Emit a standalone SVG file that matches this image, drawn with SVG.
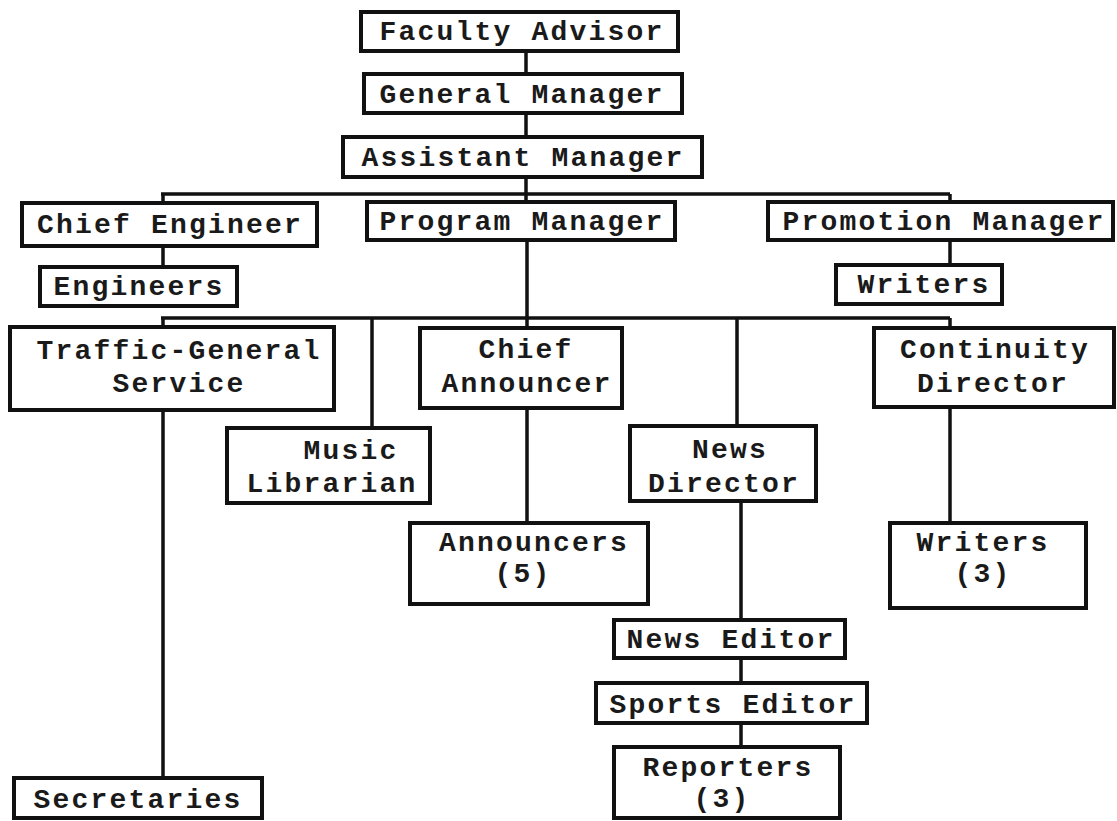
<svg xmlns="http://www.w3.org/2000/svg" width="1117" height="821" viewBox="0 0 1117 821">
<style>
.box{fill:#fff;stroke:#111;stroke-width:4}
.t{font-family:"Liberation Mono","Courier New",monospace;font-weight:bold;font-size:28px;letter-spacing:2.2px;fill:#1a1a1a;text-anchor:middle}
.c{stroke:#111;stroke-width:3.5;fill:none}
</style>
<rect width="1117" height="821" fill="#fff"/>
<g id="connectors">
<path class="c" d="M526 51V74M526 113V137M526 177V202M161 194H950M163 194V203M163 246V267M950 194V202M950 240V265M527 240V318M161 318H950M163 318V327M163 410V778M372 318V428M527 318V328M527 408V523M737 318V426M741 501V620M741 658V683M741 723V747M950 318V328M950 407V523"/>
</g>
<g id="faculty-advisor"><rect class="box" x="361" y="12" width="317" height="39"/><text class="t" x="522" y="40">Faculty Advisor</text></g>
<g id="general-manager"><rect class="box" x="364" y="74" width="318" height="39"/><text class="t" x="522" y="103">General Manager</text></g>
<g id="assistant-manager"><rect class="box" x="343" y="137" width="359" height="40"/><text class="t" x="523" y="166">Assistant Manager</text></g>
<g id="chief-engineer"><rect class="box" x="22" y="203" width="295" height="43"/><text class="t" x="170" y="233">Chief Engineer</text></g>
<g id="program-manager"><rect class="box" x="367" y="202" width="308" height="38"/><text class="t" x="522" y="230">Program Manager</text></g>
<g id="promotion-manager"><rect class="box" x="768" y="202" width="345" height="38"/><text class="t" x="944" y="230">Promotion Manager</text></g>
<g id="engineers"><rect class="box" x="40" y="267" width="197" height="39"/><text class="t" x="139" y="295">Engineers</text></g>
<g id="writers-promo"><rect class="box" x="836" y="265" width="166" height="39"/><text class="t" x="924" y="293">Writers</text></g>
<g id="traffic-general"><rect class="box" x="10" y="327" width="324" height="83"/><text class="t" x="179" y="359">Traffic-General</text><text class="t" x="179" y="392">Service</text></g>
<g id="music-librarian"><rect class="box" x="227" y="428" width="203" height="75"/><text class="t" x="351" y="459">Music</text><text class="t" x="332" y="492">Librarian</text></g>
<g id="chief-announcer"><rect class="box" x="420" y="328" width="202" height="80"/><text class="t" x="526" y="358">Chief</text><text class="t" x="527" y="392">Announcer</text></g>
<g id="news-director"><rect class="box" x="630" y="426" width="186" height="75"/><text class="t" x="730" y="458">News</text><text class="t" x="724" y="492">Director</text></g>
<g id="continuity-director"><rect class="box" x="874" y="328" width="240" height="79"/><text class="t" x="995" y="358">Continuity</text><text class="t" x="993" y="392">Director</text></g>
<g id="announcers"><rect class="box" x="410" y="523" width="238" height="81"/><text class="t" x="534" y="551">Announcers</text><text class="t" x="523" y="582">(5)</text></g>
<g id="writers-3"><rect class="box" x="890" y="523" width="196" height="85"/><text class="t" x="983" y="551">Writers</text><text class="t" x="983" y="582">(3)</text></g>
<g id="news-editor"><rect class="box" x="614" y="620" width="231" height="38"/><text class="t" x="731" y="648">News Editor</text></g>
<g id="sports-editor"><rect class="box" x="596" y="683" width="271" height="40"/><text class="t" x="733" y="713">Sports Editor</text></g>
<g id="reporters"><rect class="box" x="614" y="747" width="226" height="71"/><text class="t" x="728" y="776">Reporters</text><text class="t" x="722" y="807">(3)</text></g>
<g id="secretaries"><rect class="box" x="14" y="778" width="248" height="40"/><text class="t" x="138" y="808">Secretaries</text></g>
</svg>
